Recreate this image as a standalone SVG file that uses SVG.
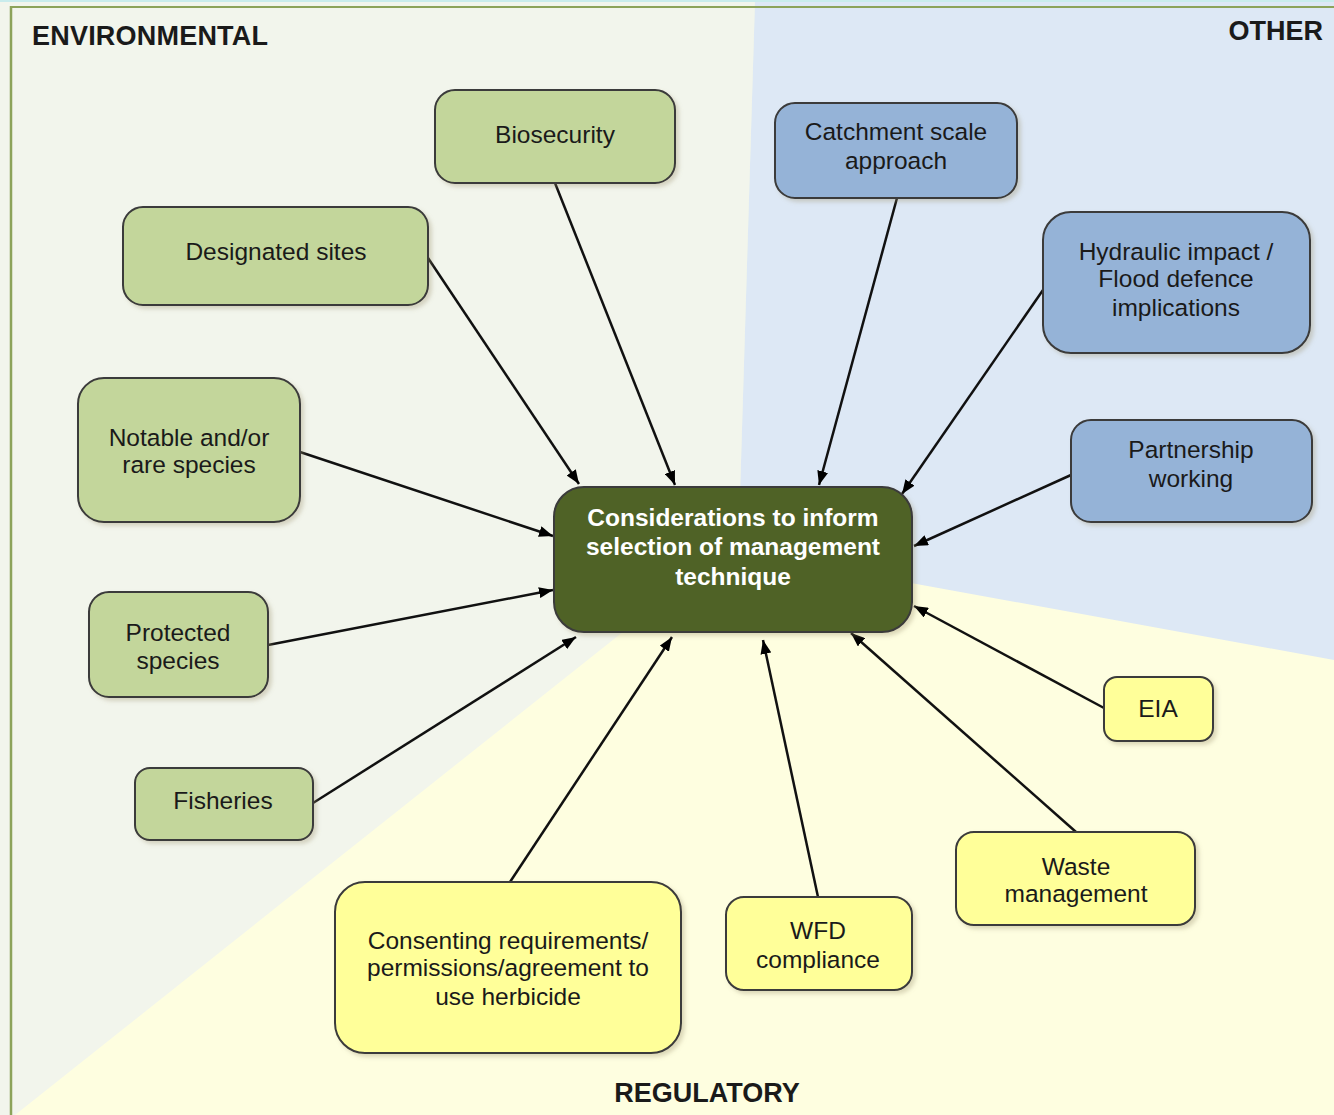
<svg xmlns="http://www.w3.org/2000/svg" width="1334" height="1115" viewBox="0 0 1334 1115">
  <style>
    .zone-label { font-family: "Liberation Sans", Arial, sans-serif; font-size: 27px; font-weight: bold; fill: #1a1a1a; }
    .node rect { stroke: #3a3a3a; stroke-width: 2; filter: url(#shadow); }
    .env rect { fill: #c3d69b; }
    .oth rect { fill: #95b3d7; }
    .reg rect { fill: #ffff99; }
    .node text { font-family: "Liberation Sans", Arial, sans-serif; font-size: 24.5px; fill: #1a1a1a; text-anchor: middle; }
    .hub rect { fill: #4f6228; }
    .hub text { fill: #ffffff; font-weight: bold; font-size: 24.5px; }
    .links line { stroke: #111; stroke-width: 2.5; marker-end: url(#arrow); }
  </style>
  <defs>
    <marker id="arrow" viewBox="0 0 14 11" refX="14" refY="5.5" markerWidth="14" markerHeight="11" markerUnits="userSpaceOnUse" orient="auto">
      <path d="M0,0 L14,5.5 L0,11 z" fill="#000"/>
    </marker>
    <filter id="shadow" x="-10%" y="-10%" width="125%" height="130%">
      <feDropShadow dx="3" dy="3" stdDeviation="2" flood-color="#9a9070" flood-opacity="0.35"/>
    </filter>
  </defs>

  <!-- background zones -->
  <rect x="0" y="0" width="1334" height="1115" fill="#fefee0"/>
  <polygon points="0,0 755,0 740,495 700,600 638,620 15,1115 0,1115" fill="#f2f5ec"/>
  <polygon points="755,0 1334,0 1334,660 900,581 760,560 740,495" fill="#dde8f5"/>
  <line x1="0" y1="1" x2="1334" y2="1" stroke="#c9ecec" stroke-width="2"/>
  <line x1="10" y1="7" x2="1334" y2="7" stroke="#8ca35a" stroke-width="2"/>
  <line x1="11" y1="6" x2="11" y2="1115" stroke="#8ca35a" stroke-width="2.5"/>

  <text class="zone-label" x="32" y="45" textLength="236">ENVIRONMENTAL</text>
  <text class="zone-label" x="1323" y="40" text-anchor="end">OTHER</text>
  <text class="zone-label" x="707" y="1102" text-anchor="middle">REGULATORY</text>

  <!-- connectors -->
  <g id="connectors" class="links">
    <line x1="555" y1="183" x2="675" y2="485"/>
    <line x1="428" y1="258" x2="579" y2="484"/>
    <line x1="300" y1="452" x2="553" y2="536"/>
    <line x1="268" y1="645" x2="553" y2="590"/>
    <line x1="313" y1="803" x2="576" y2="637"/>
    <line x1="510" y1="882" x2="672" y2="637"/>
    <line x1="818" y1="897" x2="763" y2="640"/>
    <line x1="1076" y1="832" x2="851" y2="633"/>
    <line x1="1104" y1="708" x2="914" y2="606"/>
    <line x1="1071" y1="475" x2="914" y2="546"/>
    <line x1="1043" y1="290" x2="902" y2="494"/>
    <line x1="897" y1="198" x2="819" y2="485"/>
  </g>

  <!-- environmental nodes -->
  <g id="biosecurity" class="node env">
    <rect x="435" y="90" width="240" height="93" rx="20"/>
    <text x="555" y="143">Biosecurity</text>
  </g>
  <g id="designated-sites" class="node env">
    <rect x="123" y="207" width="305" height="98" rx="20"/>
    <text x="276" y="260">Designated sites</text>
  </g>
  <g id="notable-species" class="node env">
    <rect x="78" y="378" width="222" height="144" rx="26"/>
    <text x="189" y="446">Notable and/or</text>
    <text x="189" y="473">rare species</text>
  </g>
  <g id="protected-species" class="node env">
    <rect x="89" y="592" width="179" height="105" rx="20"/>
    <text x="178" y="641">Protected</text>
    <text x="178" y="669">species</text>
  </g>
  <g id="fisheries" class="node env">
    <rect x="135" y="768" width="178" height="72" rx="15"/>
    <text x="223" y="809">Fisheries</text>
  </g>

  <!-- regulatory nodes -->
  <g id="consenting" class="node reg">
    <rect x="335" y="882" width="346" height="171" rx="30"/>
    <text x="508" y="949">Consenting requirements/</text>
    <text x="508" y="976">permissions/agreement to</text>
    <text x="508" y="1005">use herbicide</text>
  </g>
  <g id="wfd" class="node reg">
    <rect x="726" y="897" width="186" height="93" rx="18"/>
    <text x="818" y="939">WFD</text>
    <text x="818" y="968">compliance</text>
  </g>
  <g id="waste" class="node reg">
    <rect x="956" y="832" width="239" height="93" rx="18"/>
    <text x="1076" y="875">Waste</text>
    <text x="1076" y="902">management</text>
  </g>
  <g id="eia" class="node reg">
    <rect x="1104" y="677" width="109" height="64" rx="13"/>
    <text x="1158" y="717">EIA</text>
  </g>

  <!-- other nodes -->
  <g id="partnership" class="node oth">
    <rect x="1071" y="420" width="241" height="102" rx="20"/>
    <text x="1191" y="458">Partnership</text>
    <text x="1191" y="487">working</text>
  </g>
  <g id="hydraulic" class="node oth">
    <rect x="1043" y="212" width="267" height="141" rx="28"/>
    <text x="1176" y="260">Hydraulic impact /</text>
    <text x="1176" y="287">Flood defence</text>
    <text x="1176" y="316">implications</text>
  </g>
  <g id="catchment" class="node oth">
    <rect x="775" y="103" width="242" height="95" rx="20"/>
    <text x="896" y="140">Catchment scale</text>
    <text x="896" y="169">approach</text>
  </g>

  <!-- central node -->
  <g id="considerations" class="node hub">
    <rect x="554" y="487" width="358" height="145" rx="30"/>
    <text x="733" y="526">Considerations to inform</text>
    <text x="733" y="555">selection of management</text>
    <text x="733" y="585">technique</text>
  </g>
</svg>
